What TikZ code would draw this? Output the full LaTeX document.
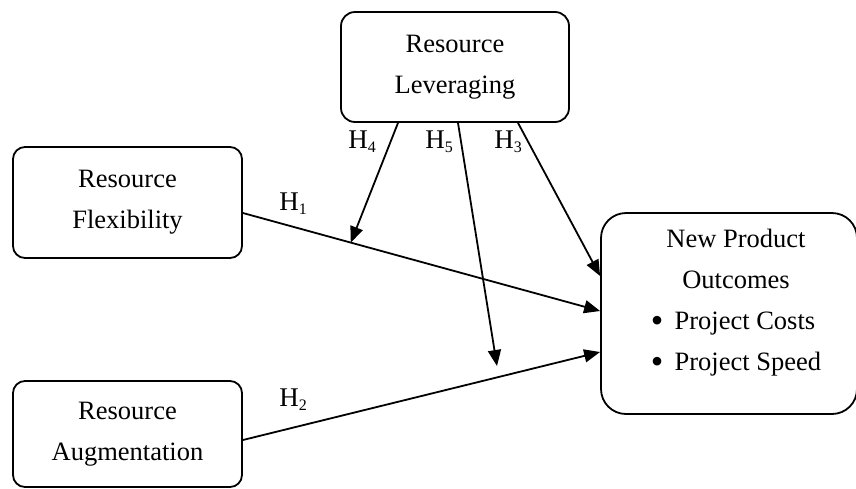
\documentclass[tikz,border=0pt]{standalone}
\usepackage{fontspec}
\setmainfont{Liberation Serif}
\usetikzlibrary{arrows.meta}
\newcommand{\hsub}[1]{H\raisebox{-4pt}{\fontsize{16}{16}\selectfont #1}}
\newcommand{\bigbul}{\raisebox{-2.5pt}{\scalebox{1.35}{\textbullet}}}
\tikzset{
  box/.style={draw, line width=1.8pt, rounded corners=14pt, inner sep=0pt, align=center,
    font=\fontsize{26.5}{41}\selectfont},
  link/.style={line width=1.8pt, -{Triangle[length=16pt,width=13pt]}},
  hlab/.style={font=\fontsize{27}{30}\selectfont, inner sep=0pt},
  bodytext/.style={align=center, inner sep=0pt, font=\fontsize{26.5}{41}\selectfont}
}
\begin{document}
\begin{tikzpicture}[x=1pt,y=-1pt]
\useasboundingbox (0,0) rectangle (856,488);
\node[box, minimum width=228pt, minimum height=110pt] (lev) at (455,67) {Resource\\Leveraging};
\node[box, minimum width=229pt, minimum height=111pt, rounded corners=12pt] (flex) at (127.5,202.5) {Resource\\Flexibility};
\node[box, minimum width=229pt, minimum height=106pt, rounded corners=12pt] (aug) at (127.5,434) {Resource\\Augmentation};
\node[box, minimum width=256pt, minimum height=201pt, rounded corners=25pt] (npo) at (729,313.5) {};
\node[bodytext] (npotext) at (736,306) {New Product\\Outcomes\\\begin{tabular}[t]{@{}l@{}}\bigbul\hspace{0.42em}Project Costs\\\bigbul\hspace{0.42em}Project Speed\end{tabular}};

\coordinate (f1) at ([yshift=-10.5pt]flex.east);
\coordinate (n1) at ([yshift=2.5pt]npo.west);
\draw[link] (f1) -- (n1) coordinate[pos=0.302] (m1);
\draw[link] ([yshift=-6pt]aug.east) -- ([yshift=-38.5pt]npo.west);
\draw[link] ([xshift=63pt]lev.south) -- ([yshift=37.5pt]npo.west);
\draw[link] ([xshift=-57pt]lev.south) -- (m1);
\coordinate (h5end) at (497,366);
\draw[link] ([xshift=3pt]lev.south) -- (h5end);

\node[hlab] (l4) at (362,142) {\hsub{4}};
\node[hlab] (l5) at (439,142) {\hsub{5}};
\node[hlab] (l3) at (508,142) {\hsub{3}};
\node[hlab] (l1) at (293,204) {\hsub{1}};
\node[hlab] (l2) at (293,400) {\hsub{2}};
\end{tikzpicture}
\end{document}
